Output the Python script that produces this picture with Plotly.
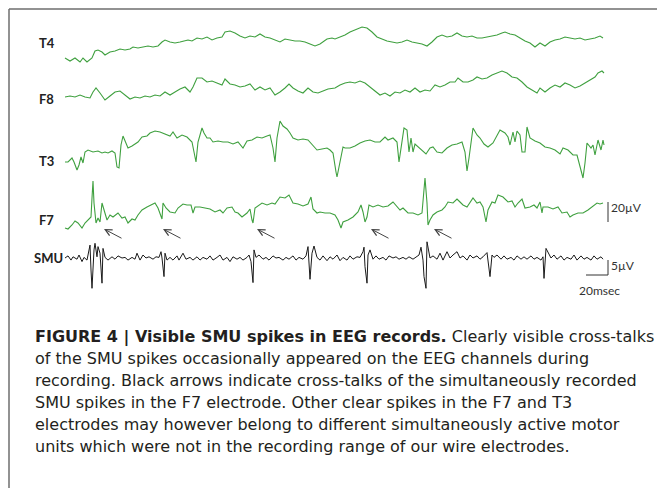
import plotly.graph_objects as go

# ---------------- data (sample index at 1.1 kHz, amplitude in microvolts) ----------------
FS_KHZ = 1.1

t4_n = [0,5,10,15,18,22,27,30,33,37,40,45,50,55,60,65,68,73,78,83,88,93,97,100,105,110,115,120,123,127,132,137,142,147,152,157,160,165,170,175,180,185,190,195,200,205,210,215,220,225,230,235,240,245,250,255,258,262,267,270,275,280,285,290,297,302,307,312,317,322,327,332,337,342,347,352,357,362,367,372,377,382,387,392,397,402,407,412,417,422,427,432,437,440,445,450,455,460,465,470,475,480,485,490,495,500,505,510,515,520,525,530,535,538]
t4_uv = [-13,-16,-13,-17,-13,-17,-13,-6,-5,-7,-10,-7,-6,-4,-5,-4,-2,-3,-2,-1,-2,-1,3,5,3,2,3,4,5,4,7,6,8,5,7,8,13,14,12,9,7,9,8,11,8,7,5,3,6,5,4,4,3,1,-1,1,3,6,7,6,8,10,13,15,18,17,13,8,6,4,3,2,3,5,3,2,1,-1,3,8,10,8,9,12,9,8,9,7,7,8,9,10,12,13,11,10,7,4,2,-2,2,-1,3,5,6,8,7,6,7,5,6,7,9,7]

f8_n = [0,5,10,15,20,25,28,31,35,40,45,50,55,60,65,70,75,80,85,90,95,100,105,110,115,120,125,128,132,137,142,147,152,157,160,165,170,175,180,185,190,195,200,205,210,215,220,224,228,233,238,243,248,253,258,263,270,275,280,285,290,295,300,305,310,315,320,325,330,335,340,345,350,355,360,365,370,375,380,385,390,393,398,403,408,412,417,422,427,432,437,442,447,452,457,462,467,472,475,480,485,490,495,500,505,510,515,520,525,530,533,537,539]
f8_uv = [-9,-8,-9,-7,-9,-10,-4,0,-5,-12,-8,-4,-3,-7,-11,-9,-10,-8,-9,-7,-8,-4,-7,-4,-1,1,-4,1,10,10,6,7,5,3,9,4,3,1,2,4,-2,1,-2,0,-7,-4,0,4,0,-3,-5,0,-4,-5,-3,-1,0,3,5,6,5,7,5,1,-3,-7,-5,-8,-4,-5,-2,-4,0,-4,-2,-3,3,1,3,6,6,10,6,6,8,11,9,10,13,15,17,15,11,10,6,1,-2,-5,0,-4,0,3,1,5,3,0,2,5,8,11,15,17,15]

t3_n = [0,3,7,9,12,14,16,18,20,23,28,33,37,40,43,47,50,52,54,56,58,61,63,67,70,73,77,82,85,90,95,100,105,108,112,117,122,127,129,131,133,137,139,142,145,148,153,158,163,168,173,178,182,187,192,197,202,205,208,210,212,215,218,222,225,228,233,238,243,247,252,257,262,265,268,271,272,274,278,280,285,290,295,300,305,310,315,320,323,328,332,334,337,339,342,344,346,348,350,353,357,361,365,368,372,377,382,387,392,397,400,402,404,407,408,412,415,419,423,428,432,435,440,443,445,448,450,452,455,457,460,462,465,470,475,480,485,490,495,498,503,508,512,515,518,520,522,526,528,530,533,536,538,539]
t3_uv = [-17,-17,-13,-17,-25,-20,-12,-18,-7,-5,-7,-6,-8,-7,-8,-6,-8,-22,-23,0,9,2,-3,-1,1,3,8,9,12,14,13,11,9,13,7,10,8,3,-8,-17,3,17,12,7,7,3,4,3,3,1,3,-3,4,5,8,7,9,10,-3,-17,7,24,19,16,12,7,5,6,5,1,-5,-4,-3,-5,-8,-27,-32,-22,-2,-3,-3,-1,2,4,5,3,3,8,5,7,3,-17,3,17,15,-7,7,-7,1,-2,-5,-9,-3,-2,-7,-8,-3,0,1,3,-7,-26,-13,8,17,10,7,1,-2,2,10,15,12,8,0,13,3,14,10,-7,-7,18,7,4,2,-2,-3,-5,-9,-3,-5,-10,-10,-22,-33,-18,2,-3,0,-10,5,-5,5,0]

f7_n = [0,3,7,10,13,17,20,23,26,27,28,29,31,33,35,37,40,42,45,48,53,57,60,63,67,70,73,77,82,87,90,93,96,97,98,101,105,110,113,118,122,126,128,130,135,140,145,150,155,158,162,167,170,173,177,182,185,187,188,190,193,197,202,207,210,215,220,224,228,233,238,243,246,248,252,255,260,265,270,273,276,278,283,288,293,296,298,300,302,304,308,313,318,323,328,332,335,338,343,348,353,357,358,360,362,363,365,368,372,377,380,383,388,392,395,398,402,405,408,412,415,418,421,423,427,430,433,438,443,447,450,453,457,460,465,469,472,475,477,478,483,488,493,497,502,505,508,513,518,523,528,532,535,538]
f7_uv = [-18,-19,-15,-11,-13,-18,-13,-10,-7,12,29,7,-13,-8,-12,7,-3,-10,-5,-7,-3,-8,-7,-13,-9,-10,-5,0,3,6,7,2,-7,-9,7,2,-2,-3,2,6,5,5,-3,3,3,2,1,-2,0,-3,2,3,-2,-3,-7,-3,1,-10,-13,2,4,7,5,7,6,13,12,15,7,6,4,6,13,1,-3,-2,-3,-3,-5,-10,-18,-12,-10,-7,-2,5,-2,-12,-7,5,3,5,3,4,8,3,0,2,-3,-3,-5,-3,8,32,7,-15,-10,-5,-2,0,3,8,7,11,8,5,3,7,12,7,8,3,-12,0,8,7,15,13,8,9,3,7,11,2,3,5,2,8,-3,3,3,1,3,-3,-2,-7,-5,-3,-3,0,4,7,6,7]

smu_n = [0,3,6,8,12,14,17,19,22,24,25,26,27,29,30,32,33,35,37,38,40,43,47,50,53,57,60,63,67,70,72,75,78,81,84,88,91,94,96,97,99,100,102,105,108,112,114,118,121,125,128,132,135,138,142,145,148,152,155,158,162,165,168,172,175,178,182,184,186,188,189,191,194,198,201,204,208,211,214,218,221,224,228,231,234,238,241,243,245,247,249,252,255,258,262,265,268,272,275,278,282,285,288,292,295,298,299,300,302,303,305,308,311,314,318,321,324,328,331,334,338,341,344,348,351,354,356,358,359,361,362,363,365,368,372,375,378,382,385,388,392,395,398,402,405,408,412,415,418,422,423,425,427,429,432,436,439,442,446,449,452,456,459,462,466,469,472,476,478,479,481,483,486,489,492,496,499,502,506,509,512,516,519,522,526,529,532,536,538]
smu_uv = [0,0.7,-0.7,0.4,-0.4,1.0,-1.2,0.2,-0.7,2.1,4.3,-4.0,-10.1,2.7,4.9,0.4,3.8,1.6,-8.4,3.2,0.2,-0.7,0.4,-0.4,0.7,0,0.2,-0.7,0.2,-0.4,1.6,-0.7,1.0,0,0.4,-0.4,0.4,0.2,2.1,0,-6.2,1.6,-0.7,0.2,-0.7,0.7,-0.7,1.6,-0.4,0.2,-0.7,0.4,-0.7,0.2,-0.4,0.7,-0.7,0.2,1.0,-0.7,0.2,-1.2,0.4,-0.4,0.2,-0.7,0.2,1.0,-1.2,-8.2,2.7,0.2,1.0,-0.4,0.2,-0.7,0.7,0,0.2,-0.7,0.2,-0.4,0.7,-0.7,0.2,-0.4,0.7,3.8,-7.1,1.6,4.0,0.2,-0.7,0.7,-0.9,0.4,-0.4,1.0,-0.9,0.2,-0.7,0.7,-0.4,0.4,0.2,2.1,3.6,-2.9,-8.4,1.0,2.7,-0.4,0.7,-0.4,0.2,-0.7,0.7,0,0.4,-0.4,0.2,-0.4,0.4,-0.4,0.2,1.0,3.6,-0.7,-6.2,-10.1,5.4,3.8,0,0.7,-0.4,1.6,-0.7,2.1,0,1.0,2.1,0,0.7,-0.7,1.0,0,0.7,-0.4,0.4,1.8,-0.7,-6.2,1.0,0.2,1.0,-0.4,0.7,-0.4,0.2,-0.7,0.7,-0.4,0.4,-0.4,0.7,-0.4,0.2,-0.7,0.4,-6.8,3.2,1.8,0,1.0,-0.4,0.7,-0.7,0.2,-0.4,1.0,-0.7,0.7,-0.4,0.2,-0.7,0.7,-0.4,0.4,-0.4]

channels = ["T4", "F8", "T3", "F7"]
crosstalk_n = [39, 98, 192, 306, 369]   # arrow tips on F7 (cross-talk of SMU spikes)

SCALE_EEG_UV = 20
SCALE_SMU_UV = 5
SCALE_MS = 20

# ---------------- layout constants ----------------
W, H = 657, 488
X0 = 65                       # pixel where sample 0 sits
EEG_GAIN, SMU_GAIN = 1.0, 3.0
offsets = {"T4": -45, "F8": -88, "T3": -145, "F7": -210, "SMU": -258}
GREEN = "#3fa03f"
BLACK = "#1a1a1a"

series = {"T4": (t4_n, t4_uv), "F8": (f8_n, f8_uv), "T3": (t3_n, t3_uv), "F7": (f7_n, f7_uv)}

fig = go.Figure()
for ch in channels:
    n, v = series[ch]
    fig.add_trace(go.Scatter(x=n, y=[offsets[ch] + EEG_GAIN * a for a in v], mode="lines",
                             line=dict(color=GREEN, width=1.1), hoverinfo="skip", showlegend=False))
fig.add_trace(go.Scatter(x=smu_n, y=[offsets["SMU"] + SMU_GAIN * a for a in smu_uv], mode="lines",
                         line=dict(color=BLACK, width=1), hoverinfo="skip", showlegend=False))

# scale bars
xb = 543
fig.add_trace(go.Scatter(x=[xb, xb], y=[-222, -222 + SCALE_EEG_UV * EEG_GAIN], mode="lines",
                         line=dict(color="#333", width=1), hoverinfo="skip", showlegend=False))
fig.add_trace(go.Scatter(x=[xb - SCALE_MS * FS_KHZ, xb, xb], y=[-275, -275, -275 + SCALE_SMU_UV * SMU_GAIN],
                         mode="lines", line=dict(color="#333", width=1), hoverinfo="skip", showlegend=False))

ann = []
label_font = dict(family="Lato, Open Sans, sans-serif", size=13, color="#222")
label_pos = {"T4": 43, "F8": 99, "T3": 161, "F7": 220, "SMU": 258}
for ch, yy in label_pos.items():
    ann.append(dict(x=(37 if ch != "SMU" else 32) - X0, y=-yy, text="<b>%s</b>" % ch, showarrow=False,
                    xanchor="left", yanchor="middle", font=label_font))

sb_font = dict(family="Lato, Open Sans, sans-serif", size=12, color="#333")
ann.append(dict(x=xb + 1, y=-207, text="%dµV" % SCALE_EEG_UV, showarrow=False, xanchor="left", yanchor="middle", font=sb_font))
ann.append(dict(x=xb + 1, y=-265, text="%dµV" % SCALE_SMU_UV, showarrow=False, xanchor="left", yanchor="middle", font=sb_font))
ann.append(dict(x=xb - 9, y=-290, text="%dmsec" % SCALE_MS, showarrow=False, xanchor="center", yanchor="middle", font=sb_font))

for c in crosstalk_n:
    ann.append(dict(x=c, y=-229, ax=19, ay=10, axref="pixel", ayref="pixel", text="", showarrow=True,
                    arrowhead=5, arrowsize=1.3, arrowwidth=1, arrowcolor="#444"))

cap_font = dict(family="DejaVu Sans, sans-serif", size=16, color="#231f20")
caption = [
    "<b>FIGURE 4 | Visible SMU spikes in EEG records.</b> Clearly visible cross-talks",
    "of the SMU spikes occasionally appeared on the EEG channels during",
    "recording. Black arrows indicate cross-talks of the simultaneously recorded",
    "SMU spikes in the F7 electrode. Other clear spikes in the F7 and T3",
    "electrodes may however belong to different simultaneously active motor",
    "units which were not in the recording range of our wire electrodes.",
]
for i, line in enumerate(caption):
    ann.append(dict(xref="paper", yref="paper", x=33 / W, y=1 - (336.5 + 21.9 * i) / H, text=line,
                    showarrow=False, xanchor="left", yanchor="middle", font=cap_font))

fig.update_layout(
    width=W, height=H, margin=dict(l=0, r=0, t=0, b=0),
    paper_bgcolor="white", plot_bgcolor="white",
    xaxis=dict(range=[-X0, W - X0], visible=False, fixedrange=True),
    yaxis=dict(range=[-H, 0], visible=False, fixedrange=True),
    annotations=ann,
    shapes=[
        dict(type="line", xref="paper", yref="paper", x0=9 / W, x1=1, y0=1 - 9 / H, y1=1 - 9 / H,
             line=dict(color="#6e6e6e", width=1.5)),
        dict(type="line", xref="paper", yref="paper", x0=9 / W, x1=9 / W, y0=1 - 9 / H, y1=0,
             line=dict(color="#6e6e6e", width=1.5)),
    ],
)
fig.write_html("out.html")
